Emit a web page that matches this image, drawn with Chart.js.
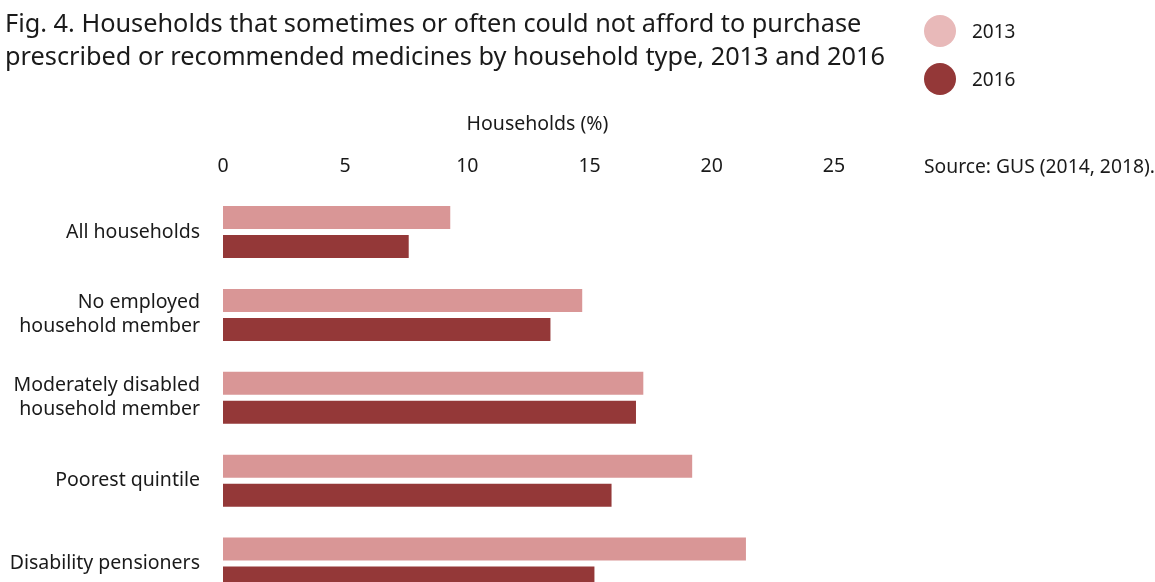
<!DOCTYPE html>
<html>
<head>
<meta charset="utf-8">
<script src="https://cdn.jsdelivr.net/npm/chart.js@4"></script>
<style>
  html, body { margin:0; padding:0; background:#fff; overflow:hidden; width:1155px; height:582px; }
  #wrap { position:absolute; left:0; top:0; width:1155px; height:640px; }
  .t { position:absolute; font-family:"Noto Sans", sans-serif; color:#1a1a1a; white-space:nowrap; }
  #title { left:5px; top:5.5px; font-size:25.3px; line-height:33px; }
  .leg { position:absolute; width:32px; height:32px; border-radius:50%; }
  .legt { font-size:19px; line-height:24px; }
  #source { left:924px; top:154px; font-size:19.3px; line-height:24px; }
</style>
</head>
<body>
<div id="wrap"><canvas id="c" width="1155" height="640"></canvas></div>
<div class="t" id="title">Fig. 4. Households that sometimes or often could not afford to purchase<br>prescribed or recommended medicines by household type, 2013 and 2016</div>
<div class="leg" id="leg13" style="left:924px; top:15px;"></div>
<div class="t legt" style="left:972px; top:19px;">2013</div>
<div class="leg" id="leg16" style="left:924px; top:63px;"></div>
<div class="t legt" style="left:972px; top:67px;">2016</div>
<div class="t" id="source">Source: GUS (2014, 2018).</div>
<script>
const categories = [
  "All households",
  ["No employed", "household member"],
  ["Moderately disabled", "household member"],
  "Poorest quintile",
  "Disability pensioners"
];
const seriesNames = ["2013", "2016"];
const values2013 = [9.3, 14.7, 17.2, 19.2, 21.4];
const values2016 = [7.6, 13.4, 16.9, 15.9, 15.2];
const xTicks = [0, 5, 10, 15, 20, 25];
const barColors = ["#d99696", "#943838"];
const legendColors = ["#e8b9b9", "#943838"];

document.getElementById('leg13').style.background = legendColors[0];
document.getElementById('leg16').style.background = legendColors[1];

const font = { family: "'Noto Sans', sans-serif", size: 19.5 };

new Chart(document.getElementById('c'), {
  type: 'bar',
  data: {
    labels: categories,
    datasets: [
      { label: seriesNames[0], data: values2013, backgroundColor: barColors[0], categoryPercentage: 0.70, barPercentage: 0.79 },
      { label: seriesNames[1], data: values2016, backgroundColor: barColors[1], categoryPercentage: 0.70, barPercentage: 0.79 }
    ]
  },
  options: {
    indexAxis: 'y',
    responsive: false,
    animation: false,
    devicePixelRatio: 1,
    layout: { padding: { top: 110, left: 0, right: 303, bottom: 0 } },
    plugins: { legend: { display: false }, tooltip: { enabled: false }, title: { display: false } },
    scales: {
      x: {
        position: 'top',
        min: 0, max: 25.74,
        afterBuildTicks: (s) => { s.ticks = xTicks.map(v => ({ value: v })); },
        afterFit: (s) => { s.height = 80.6; },
        grid: { display: false, drawTicks: false },
        border: { display: false },
        ticks: { color: '#1a1a1a', font: font, padding: 12.9 },
        title: { display: true, text: 'Households (%)', color: '#1a1a1a', font: font, padding: { top: 2.3, bottom: 0 } }
      },
      y: {
        afterFit: (s) => { s.width = 223; },
        grid: { display: false, drawTicks: false },
        border: { display: false },
        ticks: { color: '#1a1a1a', font: { family: font.family, size: 19.5, lineHeight: 1.23 }, padding: 23 }
      }
    }
  }
});
</script>
</body>
</html>
